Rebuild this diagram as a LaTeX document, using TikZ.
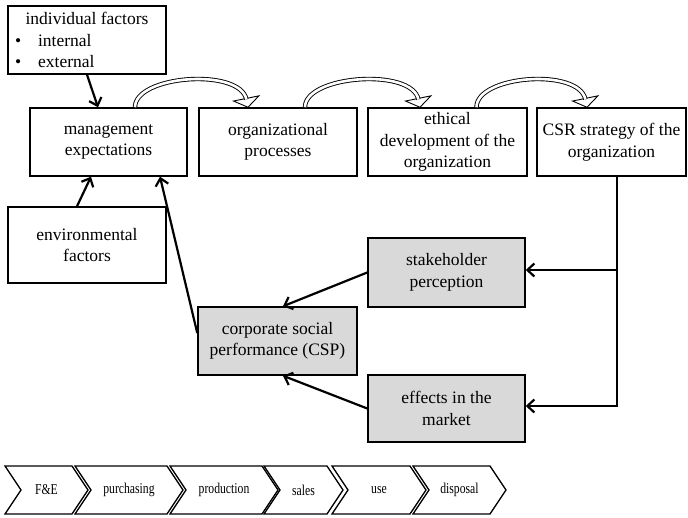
\documentclass[tikz,border=0pt]{standalone}
\usepackage{fontspec}
\setmainfont{Liberation Serif}
\usetikzlibrary{arrows.meta,calc}
\definecolor{boxgray}{HTML}{D9D9D9}
% curved hollow flow arrow: #1 start point, #2 tip point
\newcommand\curvedflow[2]{%
  \path (#2) ++(-1.8,-8.8) coordinate (hb);
  \draw[line width=0.9pt, fill=white, line join=miter]
    ($(hb)+(-12.7,2.6)$) -- (#2) -- ($(hb)+(12.7,-2.6)$) -- cycle;
  \draw[band] (#1) .. controls +(0,-32) and ($(hb)+(-6.4,-31)$) .. ($(hb)+(0.2,1)$);
}
% narrow lettering for the value chain stages
\newcommand\stagelabel[1]{\scalebox{0.78}[1]{#1}}
\begin{document}
\begin{tikzpicture}[x=1pt,y=-1pt,
  box/.style={draw, line width=1.5pt, align=center, inner sep=0pt,
    font=\fontsize{17.5pt}{21.5pt}\selectfont},
  shaded/.style={box, fill=boxgray},
  conn/.style={line width=2.2pt, -{Straight Barb[length=7pt,width=13pt]}},
  plain/.style={line width=2.2pt},
  band/.style={draw=black, double=white, line width=0.9pt, double distance=2.6pt},
  stage/.style={draw, line width=1.3pt, line join=miter},
  stagetext/.style={font=\fontsize{15pt}{17pt}\selectfont}]
\useasboundingbox (0,0) rectangle (688,518);

% upper row of boxes
\node[box, minimum width=158pt, minimum height=68pt, align=left]
  (indiv) at (87,40)
  {\makebox[144pt][c]{individual factors}\\
   \textbullet\hspace{17pt}internal\\
   \textbullet\hspace{17pt}external};
\node[box, minimum width=157pt, minimum height=68pt] (mgmt) at (108.5,142)
  {management\\expectations};
\node[box, minimum width=158pt, minimum height=68pt] (org) at (278,142)
  {organizational\\processes};
\node[box, minimum width=159pt, minimum height=68pt] (eth) at (447.5,142)
  {ethical\\development of the\\organization};
\node[box, minimum width=149pt, minimum height=68pt] (csr) at (611.5,142)
  {CSR strategy of the\\organization};
\node[box, minimum width=158pt, minimum height=76pt] (env) at (87,245)
  {environmental\\factors};

% shaded boxes
\node[shaded, minimum width=157pt, minimum height=69pt] (stake) at (446.5,272.5)
  {stakeholder\\perception};
\node[shaded, minimum width=159pt, minimum height=68pt] (csp) at (277.5,341)
  {corporate social\\performance (CSP)};
\node[shaded, minimum width=157pt, minimum height=67pt] (eff) at (446.5,408.5)
  {effects in the\\market};

% straight connectors
\draw[conn] (indiv.south) -- ([xshift=-10.5pt]mgmt.north);
\draw[conn] ([xshift=-10pt]env.north) -- ([xshift=-17.5pt]mgmt.south);
\draw[conn] ([yshift=8pt]csp.west) -- ([xshift=51.5pt]mgmt.south);
\draw[conn] (stake.west) -- ([xshift=5.5pt]csp.north);
\draw[conn] (eff.west) -- ([xshift=5.5pt]csp.south);

% feedback from the CSR strategy
\coordinate (split) at (617,270);
\coordinate (bend) at (617,406);
\draw[plain] ([xshift=5.5pt]csr.south) -- ([yshift=-1.1pt]bend);
\draw[conn] (split) -- (split -| stake.east);
\draw[conn] ([xshift=-1.1pt]bend) -- (bend -| eff.east);

% curved flow arrows along the upper row
\curvedflow{[xshift=26.5pt]mgmt.north}{[xshift=-30pt]org.north}
\curvedflow{[xshift=27pt]org.north}{[xshift=-27.5pt]eth.north}
\curvedflow{[xshift=29pt]eth.north}{[xshift=-24.5pt]csr.north}

% value chain
\foreach \l/\r/\t/\n in {5/72/{F\&E}/fe, 75/167/purchasing/pur, 170/262/production/prod,
    264/327/sales/sal, 332/410/use/use, 413/490/disposal/disp} {
  \draw[stage] (\l,466) -- (\r,466) -- (\r+16,490) -- (\r,514) -- (\l,514) -- (\l+16,490) -- cycle;
  \node[stagetext] (\n) at ({(\l+\r)/2+8},490) {\stagelabel{\t}};
}
\end{tikzpicture}
\end{document}
